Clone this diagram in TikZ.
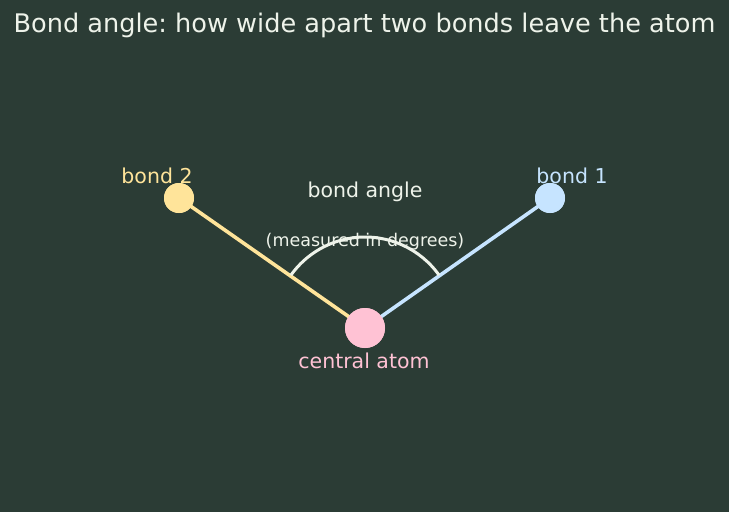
\documentclass[tikz,border=0pt]{standalone}
\usepackage{fontspec}
\setmainfont{DejaVu Sans}
\frenchspacing
\definecolor{bg}{HTML}{2B3C35}
\definecolor{txt}{HTML}{EEF3EA}
\definecolor{yel}{HTML}{FFE49A}
\definecolor{blu}{HTML}{C6E4FF}
\definecolor{pnk}{HTML}{FFC2D4}
\begin{document}
\begin{tikzpicture}[x=1pt,y=-1pt,
  bond/.style={line width=3.6pt},
  atom/.style={circle,inner sep=0pt,draw=none},
  lbl/.style={font=\fontsize{20.5}{24}\selectfont,inner sep=0pt,anchor=center}]
\fill[bg] (0,0) rectangle (729,512);
\useasboundingbox (0,0) rectangle (729,512);
\node[txt,font=\fontsize{25.6}{30}\selectfont,inner sep=0pt] (title) at (364.5,25) {Bond angle: how wide apart two bonds leave the atom};
\coordinate (c) at (365,328);
\node[atom,fill=yel,minimum size=30pt] (b2) at (179,198) {};
\node[atom,fill=blu,minimum size=30pt] (b1) at (550,198) {};
\node[atom,fill=pnk,minimum size=40pt] (ca) at (c) {};
\draw[bond,yel] (ca.center) -- (b2.center);
\draw[bond,blu] (ca.center) -- (b1.center);
\draw[txt,line width=3pt] ([shift={(-35.5:91)}]c) arc[start angle=-35.5,end angle=-144.5,radius=91];
\node[atom,fill=yel,minimum size=30pt] at (b2) {};
\node[atom,fill=blu,minimum size=30pt] at (b1) {};
\node[atom,fill=pnk,minimum size=40pt] at (ca) {};
\node[lbl,yel] (l2) at (157,176) {bond 2};
\node[lbl,blu] (l1) at (572,176) {bond 1};
\node[lbl,txt] (la) at (365,191.5) {bond angle};
\node[txt,font=\fontsize{17.5}{20}\selectfont,inner sep=0pt] (lm) at (365,241.5) {(measured in degrees)};
\node[lbl,pnk] (lc) at (364,361) {central atom};
\end{tikzpicture}
\end{document}
